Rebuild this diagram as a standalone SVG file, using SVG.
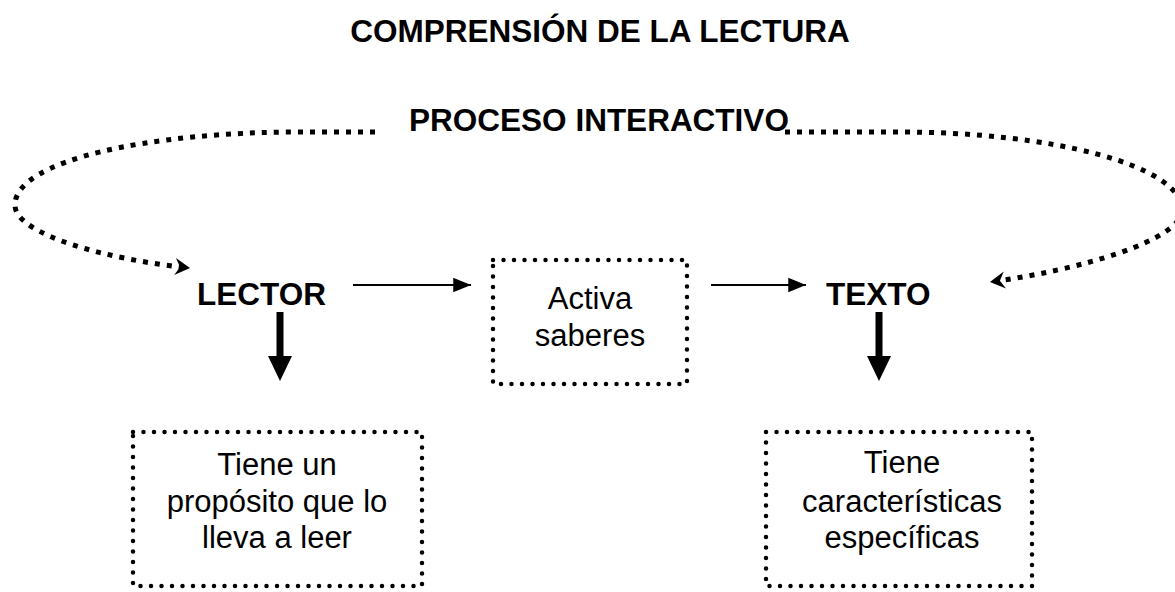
<svg xmlns="http://www.w3.org/2000/svg" width="1175" height="592" viewBox="0 0 1175 592">
<style>
  .bold { font-family: "Liberation Sans", Arial, sans-serif; font-weight: bold; font-size: 31.5px; fill: #000; }
  .reg { font-family: "Liberation Sans", Arial, sans-serif; font-size: 31px; fill: #000; text-anchor: middle; }
  .dotbox { fill: none; stroke: #000; stroke-width: 4.5; stroke-linecap: round; stroke-dasharray: 0 10.5; }
  .loop { fill: none; stroke: #000; stroke-width: 5; stroke-dasharray: 5 7; }
  .thin { fill: none; stroke: #000; stroke-width: 2; }
  .thick { fill: none; stroke: #000; stroke-width: 7; }
</style>
<defs>
  <marker id="stealth" markerUnits="userSpaceOnUse" markerWidth="24" markerHeight="24" refX="0" refY="0" viewBox="-18 -12 20 24" orient="auto" overflow="visible">
    <path d="M0,0 L-15,-8.5 L-10,0 L-15,8.5 Z" fill="#000"/>
  </marker>
  <marker id="tri" markerUnits="userSpaceOnUse" markerWidth="20" markerHeight="20" refX="0" refY="0" viewBox="-17 -8 18 16" orient="auto" overflow="visible">
    <path d="M0,0 L-16,-6.5 L-16,6.5 Z" fill="#000"/>
  </marker>
</defs>

<text id="title" class="bold" x="600" y="42" text-anchor="middle">COMPRENSIÓN DE LA LECTURA</text>

<g id="proceso">
  <text class="bold" x="599" y="131" text-anchor="middle">PROCESO INTERACTIVO</text>
</g>

<g id="lector">
  <text class="bold" x="197" y="305">LECTOR</text>
</g>

<g id="texto">
  <text class="bold" x="826" y="305">TEXTO</text>
</g>

<g id="activa">
  <rect class="dotbox" x="493" y="260" width="194" height="124"/>
  <text class="reg" x="590" y="309">Activa</text>
  <text class="reg" x="590" y="346">saberes</text>
</g>

<g id="proposito">
  <rect class="dotbox" x="133" y="432" width="289" height="154"/>
  <text class="reg" x="277" y="475">Tiene un</text>
  <text class="reg" x="277" y="512">propósito que lo</text>
  <text class="reg" x="277" y="548">lleva a leer</text>
</g>

<g id="caracteristicas">
  <rect class="dotbox" x="766" y="432" width="266" height="154"/>
  <text class="reg" x="902" y="473">Tiene</text>
  <text class="reg" x="902" y="512">características</text>
  <text class="reg" x="902" y="548">específicas</text>
</g>

<g id="connectors">
  <path class="loop" d="M375,132 L300,132 C150,132 15,160 15,205 C15,235 110,260 190,268" marker-end="url(#stealth)"/>
  <path class="loop" d="M785,132 L900,132 C1050,132 1182,165 1182,210 C1182,240 1080,270 990,282" marker-end="url(#stealth)"/>
  <path class="thin" d="M353,285 L471,285" marker-end="url(#tri)"/>
  <path class="thin" d="M711,285 L806,285" marker-end="url(#tri)"/>
  <line class="thick" x1="280" y1="312" x2="280" y2="360"/>
  <path d="M268,356 L292,356 L280,381 Z" fill="#000"/>
  <line class="thick" x1="879" y1="312" x2="879" y2="360"/>
  <path d="M867,356 L891,356 L879,381 Z" fill="#000"/>
</g>
</svg>
